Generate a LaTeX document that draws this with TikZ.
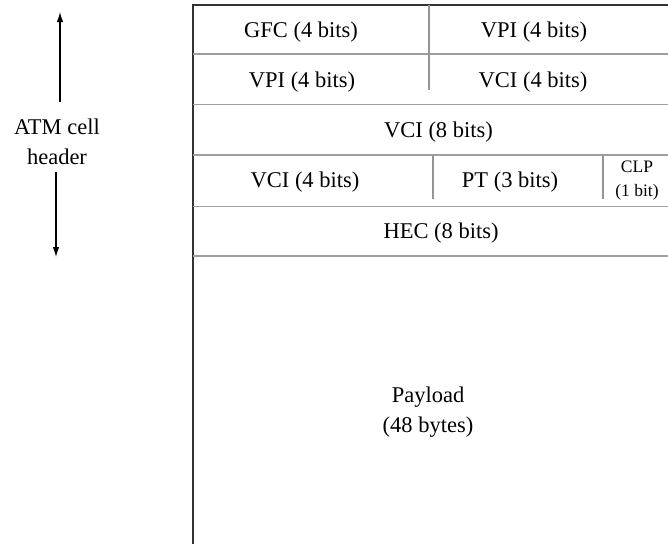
\documentclass[tikz,border=0pt]{standalone}
\usepackage{fontspec}
\setmainfont{Liberation Serif}
\usepackage{tikz}
\usetikzlibrary{arrows.meta}

\begin{document}
\begin{tikzpicture}[x=1pt, y=-1pt,
    fld/.style={font=\fontsize{22.5}{30}\selectfont, inner sep=0pt, anchor=base},
    sep/.style={draw=black!38, line width=1.8pt},
    div/.style={draw=black!42, line width=1.2pt},
    arr/.style={-{Latex[length=10pt,width=6.5pt]}, line width=1.2pt}]
            \useasboundingbox (0,0) rectangle (668,544);

            % cell frame and rows
            \draw[line width=1.3pt, black!80] (193,544) -- (193,5) -- (668,5);
            \foreach \y in {54,104.5,155,206.5,256}
                \draw[sep] (193,\y) -- (668,\y);
            \draw[div] (429,5) -- (429,90);
            \draw[div] (433,155) -- (433,199);
            \draw[div] (603,155) -- (603,199);

            \node[fld] (gfc) at (301,37) {GFC (4 bits)};
            \node[fld] (vpia) at (534,37) {VPI (4 bits)};
            \node[fld] (vpib) at (302,87) {VPI (4 bits)};
            \node[fld] (vcia) at (533,87) {VCI (4 bits)};
            \node[fld] (vcib) at (438.5,137) {VCI (8 bits)};
            \node[fld] (vcic) at (305,187) {VCI (4 bits)};
            \node[fld] (pt) at (510,187) {PT (3 bits)};
            \node[font=\fontsize{17.5}{24}\selectfont, inner sep=0pt, align=center] (clp) at (637,181) {CLP\\(1 bit)};
            \node[fld] (hec) at (441,238) {HEC (8 bits)};
            \node[fld, anchor=center, align=center] (pay) at (428,412) {Payload\\(48 bytes)};

            % header label
            \node[fld, anchor=center, align=center] (hdr) at (57,142) {ATM cell\\header};
            \coordinate (uptip) at (60,12);
            \coordinate (dntip) at (56,257);
            \draw[arr] ([xshift=3pt,yshift=17pt]hdr.north) -- (uptip);
            \draw[arr] ([xshift=-1pt,yshift=-7pt]hdr.south) -- (dntip);
\end{tikzpicture}
\end{document}
